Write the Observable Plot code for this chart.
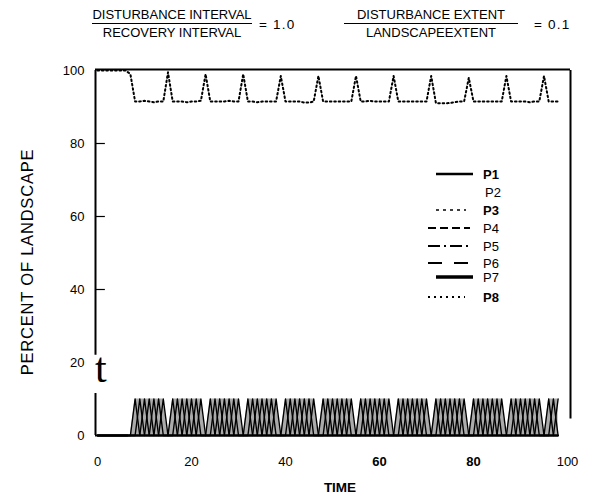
<!DOCTYPE html>
<html><head><meta charset="utf-8">
<script src="https://cdn.jsdelivr.net/npm/d3@7"></script>
<script src="https://cdn.jsdelivr.net/npm/@observablehq/plot@0.6"></script>
<style>body{margin:0;background:#fff;font-family:"Liberation Sans",Arial,sans-serif}</style>
</head><body><div id="chart"></div>
<script>
// ---- data ----
const times = d3.range(0, 99);            // time steps 0..98
// P8 (mature stage), percent of landscape at each time step
const p8Values = [
  100,100,100,100,100,100,100, 99,
  91.5,91.5,91.7,91.5,91.3,91.5,91.5, 99.5,
  91.5,91.5,91.5,91.3,91.5,91.5,91.7, 99,
  91.5,91.5,91.5,91.5,91.7,91.5,91.5, 99,
  91.5,91.5,91.3,91.5,91.5,91.5,91.5, 98.5,
  91.5,91.5,91.5,91.5,91.2,91.2,91.5, 98.5,
  91.5,91.5,91.5,91.5,91.5,91.5,91.5, 98.5,
  91.5,91.5,91.7,91.5,91.5,91.5,91.5, 98.5,
  91.5,91.5,91.5,91.5,91.5,91.5,91.5, 98.5,
  91.1,91,91,91.1,91.3,91.5,91.5, 98,
  91.5,91.5,91.5,91.5,91.5,91.5,91.5, 98.5,
  91.5,91.5,91.5,91.5,91.3,91.5,91.5, 98.5,
  91.5,91.5,91.5
];
// early stages P1..P7: times at which each one holds the disturbed patch
const seriesNames = ["P1","P2","P3","P4","P5","P6","P7","P8"];
const p1Peaks = [8,16,24,32,40,48,56,64,72,80,88,96];
const p2Peaks = [9,17,25,33,41,49,57,65,73,81,89,97];
const p3Peaks = [10,18,26,34,42,50,58,66,74,82,90,98];
const p4Peaks = [11,19,27,35,43,51,59,67,75,83,91];
const p5Peaks = [12,20,28,36,44,52,60,68,76,84,92];
const p6Peaks = [13,21,29,37,45,53,61,69,77,85,93];
const p7Peaks = [14,22,30,38,46,54,62,70,78,86,94];
const peakValue = 10;
const xTicks = [0,20,40,60,80,100];
const yTicks = [0,20,40,60,80,100];

const earlyPeaks = [p1Peaks,p2Peaks,p3Peaks,p4Peaks,p5Peaks,p6Peaks,p7Peaks];
const rows8 = times.map((t,i) => ({t, v: p8Values[i]}));
const lowRows = [];
earlyPeaks.forEach((pk, s) => times.forEach(t => lowRows.push({series: seriesNames[s], t, v: pk.includes(t) ? peakValue : 0})));
// total share held by the early stages at each time (stippled band)
const bandRows = times.map(t => ({t, v: d3.sum(lowRows.filter(r => r.t === t), r => r.v)}));

const chart = Plot.plot({
  width: 597, height: 496,
  marginLeft: 97, marginRight: 30, marginTop: 70, marginBottom: 61,
  x: {domain: [0,100]},
  y: {domain: [0,100]},
  style: {fontFamily: "Liberation Sans, Arial, sans-serif", fontSize: "13px", background: "white", color: "black", overflow: "visible"},
  marks: [
    Plot.areaY(bandRows, {x: "t", y: "v", fill: "#ababab"}),
    Plot.lineY(lowRows, {x: "t", y: "v", z: "series", stroke: "black", strokeWidth: 1.4}),
    Plot.lineY(rows8, {x: "t", y: "v", stroke: "black", strokeWidth: 2, strokeDasharray: "1.6,2.8"}),
    Plot.ruleY([100], {strokeWidth: 2, insetLeft: -2, insetRight: -3, dy: -1}),
    Plot.ruleX([100], {y1: 4.5, y2: 100, strokeWidth: 2, dx: 3}),
    Plot.ruleX([0], {y1: 22, y2: 100, strokeWidth: 2, dx: -2}),
    Plot.ruleX([0], {y1: 0, y2: 11.5, strokeWidth: 2, dx: -2}),
    Plot.ruleY([0], {x1: 0, x2: 7, strokeWidth: 2, dx: -2}),
    Plot.ruleY([40,60,80], {x1: 0, x2: 2.1, strokeWidth: 1.2, dx: -2}),
    Plot.axisY({ticks: yTicks, tickSize: 0, tickPadding: 13, label: null}),
    Plot.axisX({ticks: [0,20,40,100], tickSize: 0, tickPadding: 21, label: null}),
    Plot.axisX({ticks: [60,80], tickSize: 0, tickPadding: 21, label: null, fontWeight: "bold"})
  ]
});
document.getElementById("chart").appendChild(chart);

const svg = d3.select(chart);
const g = svg.append("g").attr("font-family","Liberation Sans, Arial, sans-serif").attr("fill","black").attr("text-anchor","start");
// title fractions
function frac(cx, num, den, x1, x2, eqx, eq) {
  g.append("text").attr("x",cx).attr("y",19).attr("text-anchor","middle").attr("font-size",13).text(num);
  g.append("line").attr("x1",x1).attr("x2",x2).attr("y1",23.5).attr("y2",23.5).attr("stroke","black").attr("stroke-width",1);
  g.append("text").attr("x",cx).attr("y",37).attr("text-anchor","middle").attr("font-size",13).text(den);
  g.append("text").attr("x",eqx).attr("y",29).attr("text-anchor","start").attr("font-size",13.5).attr("letter-spacing",1.2).text(eq);
}
frac(172, "DISTURBANCE INTERVAL", "RECOVERY INTERVAL", 92, 252, 259, "= 1.0");
frac(431, "DISTURBANCE EXTENT", "LANDSCAPEEXTENT", 344, 518, 534, "= 0.1");
// axis titles
g.append("text").attr("transform","translate(33,262) rotate(-90)").attr("text-anchor","middle").attr("font-size",16.5).attr("letter-spacing",0.8).text("PERCENT OF LANDSCAPE");
g.append("text").attr("x",340).attr("y",492).attr("text-anchor","middle").attr("font-size",13.5).attr("font-weight","bold").text("TIME");
g.append("text").attr("x",95).attr("y",382).attr("text-anchor","start").attr("font-size",42).attr("font-family","Liberation Serif, DejaVu Serif, serif").text("t");

// legend
const legendDash = ["", null, "3,4", "8,4", "12,4,2,4", "14,12", "", "2,4"];
const legendWidth = [2.5, 0, 1.3, 2.2, 2, 2, 3.5, 2.2];
const legendX1 = [436, 436, 436, 428, 428, 428, 436, 428];
const legendX2 = [473, 473, 466, 470, 470, 470, 473, 465];
const legendBold = [true, false, true, false, false, false, false, true];
const legendY = [174, 192, 210, 228, 246, 263, 277, 297];
const lg = g.append("g");
seriesNames.forEach((name, i) => {
  if (legendWidth[i] > 0) {
    lg.append("line").attr("x1", legendX1[i]).attr("x2", legendX2[i]).attr("y1", legendY[i]).attr("y2", legendY[i])
      .attr("stroke","black").attr("stroke-width", legendWidth[i]).attr("stroke-dasharray", legendDash[i] || null);
  }
  lg.append("text").attr("x", i === 1 ? 485 : 483).attr("y", legendY[i] + 4.5).attr("text-anchor","start").attr("font-size", 13)
    .attr("font-weight", legendBold[i] ? "bold" : "normal").text(name);
});
</script>
</body></html>
